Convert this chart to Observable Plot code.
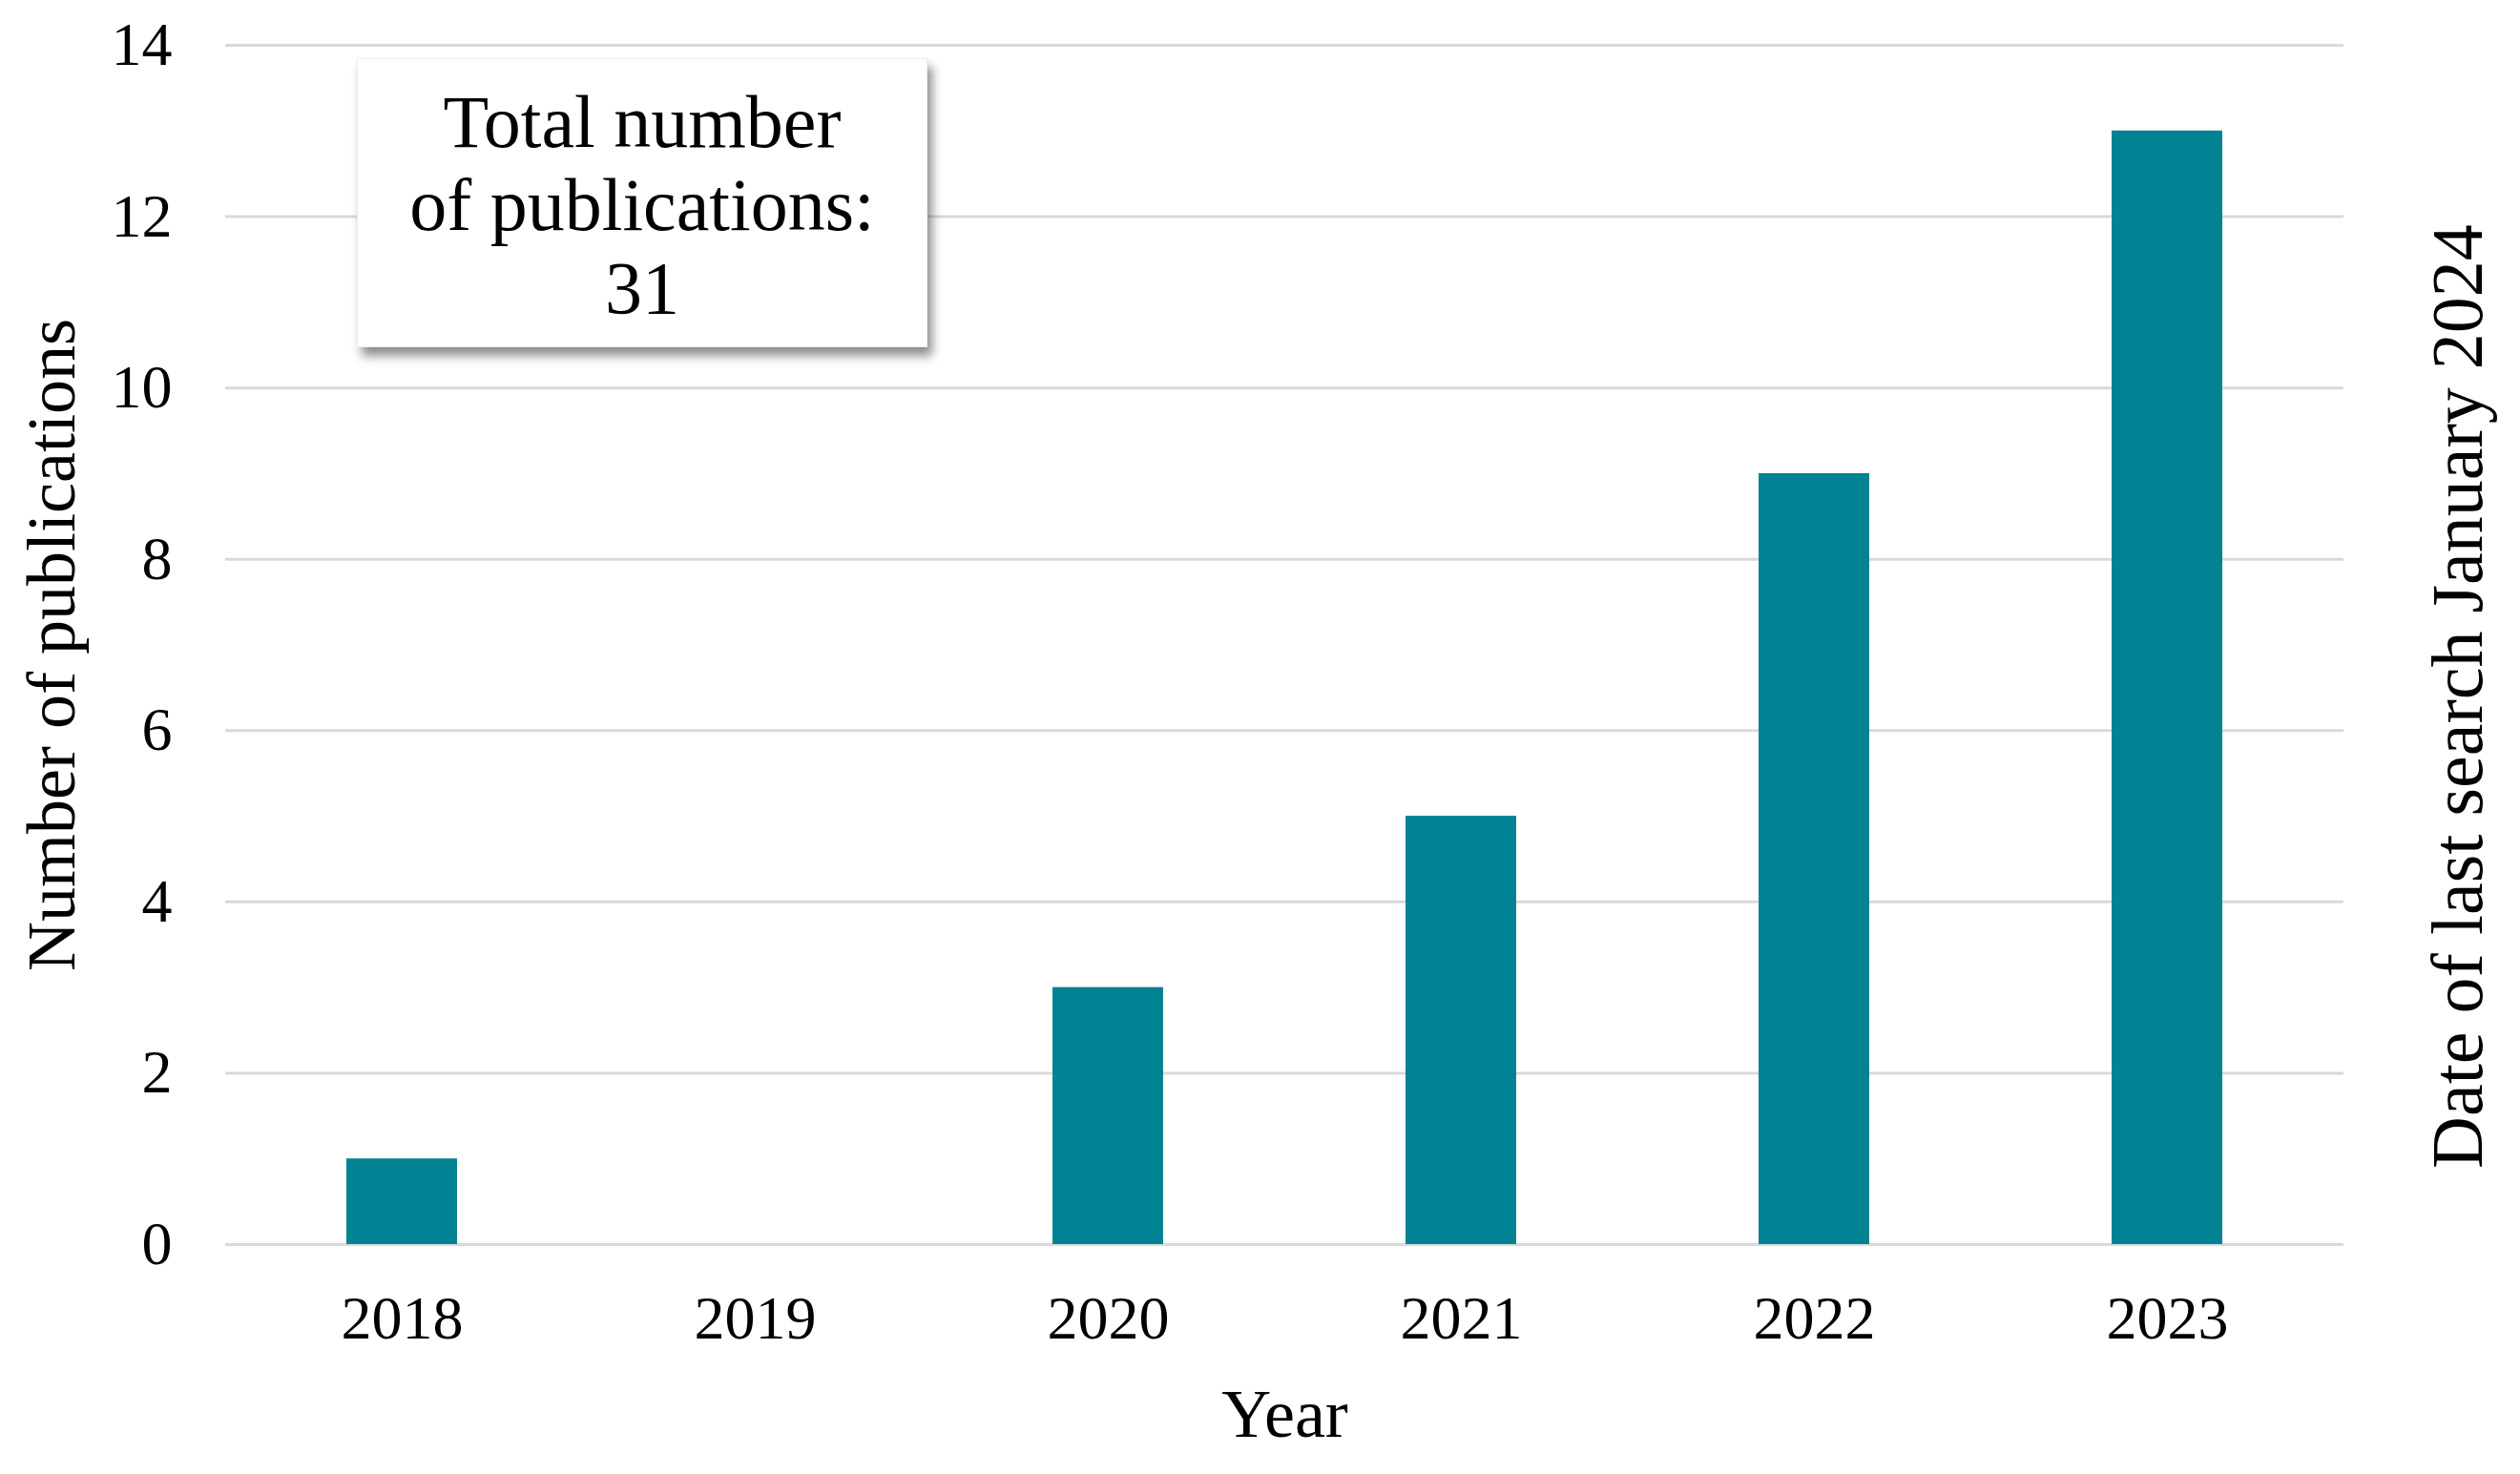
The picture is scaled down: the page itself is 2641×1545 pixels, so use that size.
<!DOCTYPE html>
<html>
<head>
<meta charset="utf-8">
<script src="https://cdn.jsdelivr.net/npm/d3@7"></script>
<script src="https://cdn.jsdelivr.net/npm/@observablehq/plot@0.6"></script>
<style>
  body { margin: 0; background: #fff; }
  #wrap { position: relative; width: 2641px; height: 1545px; }
  #note {
    position: absolute; left: 374px; top: 61px; width: 598px; height: 303px;
    box-sizing: border-box; padding-top: 22px;
    background: #fff; border: 1px solid #eee;
    box-shadow: 5px 9px 10px rgba(0,0,0,0.45);
    font-family: "Palatino Linotype", "Book Antiqua", Palatino, "Liberation Serif", serif;
    font-size: 78px; line-height: 87px; text-align: center; color: #000;
  }
</style>
</head>
<body>
<div id="wrap"></div>
<script>
const years = ["2018", "2019", "2020", "2021", "2022", "2023"];
const counts = [1, 0, 3, 5, 9, 13];
const yTicks = [0, 2, 4, 6, 8, 10, 12, 14];
const xTitle = "Year";
const yTitle = "Number of publications";
const rightNote = "Date of last search January 2024";
const noteLines = ["Total number", "of publications:", "31"];

const data = years.map((y, i) => ({year: y, count: counts[i]}));
const font = '"Palatino Linotype", "Book Antiqua", Palatino, "Liberation Serif", serif';

const chart = Plot.plot({
  width: 2641,
  height: 1545,
  marginLeft: 236,
  marginRight: 185,
  marginTop: 47,
  marginBottom: 241,
  style: {fontFamily: font, fontSize: "64px", color: "#000", background: "#fff"},
  x: {domain: years, paddingInner: 0.686, paddingOuter: 0.343, label: null},
  y: {domain: [0, 14], label: null},
  marks: [
    Plot.gridY(yTicks, {stroke: "#d9d9d9", strokeOpacity: 1, strokeWidth: 3}),
    Plot.barY(data, {x: "year", y: "count", fill: "#028393"}),
    Plot.axisY(yTicks, {tickSize: 0, tickPadding: 56, fontSize: 64, label: null, tickFormat: d => String(d)}),
    Plot.axisX({tickSize: 0, tickPadding: 53, fontSize: 64, label: null}),
    Plot.text([xTitle], {frameAnchor: "bottom", dy: 178, text: d => d, fontSize: 72, lineAnchor: "middle"}),
    Plot.text([yTitle], {frameAnchor: "left", dx: -182, rotate: -90, text: d => d, fontSize: 72, textAnchor: "middle", lineAnchor: "middle"}),
    Plot.text([rightNote], {frameAnchor: "right", dx: 120, dy: 54, rotate: -90, text: d => d, fontSize: 76, textAnchor: "middle", lineAnchor: "middle"})
  ]
});
const wrap = document.getElementById("wrap");
wrap.appendChild(chart);
const note = document.createElement("div");
note.id = "note";
note.innerHTML = noteLines.join("<br>");
wrap.appendChild(note);
</script>
</body>
</html>
